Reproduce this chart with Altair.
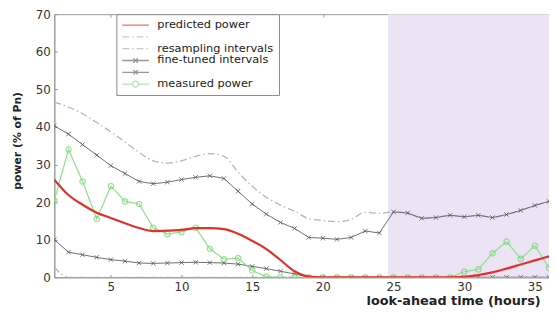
import altair as alt
import pandas as pd

hours = [1, 2, 3, 4, 5, 6, 7, 8, 9, 10, 11, 12, 13, 14, 15, 16, 17, 18,
         19, 20, 21, 22, 23, 24, 25, 26, 27, 28, 29, 30, 31, 32, 33, 34, 35, 36]

predicted = [26.0, 21.9, 19.3, 17.2, 15.8, 14.4, 13.1, 12.3, 12.4, 12.6, 13.1, 13.1,
             12.8, 11.6, 9.7, 7.5, 4.6, 1.6, 0.2, 0.0, 0.0, 0.0, 0.0, 0.0,
             0.0, 0.0, 0.0, 0.0, 0.0, 0.1, 0.6, 1.3, 2.3, 3.4, 4.5, 5.6]
resampling_upper = [46.6, 45.3, 43.5, 41.2, 38.7, 36.0, 33.2, 31.0, 30.4, 31.0, 32.2, 32.9,
                    32.2, 28.0, 24.2, 21.3, 19.2, 17.6, 15.6, 15.1, 14.8, 15.4, 17.3, 17.0,
                    17.4, 17.1, 15.7, 15.9, 16.5, 16.1, 16.5, 15.9, 16.7, 17.8, 19.1, 20.2]
resampling_lower = [2.7, 0.0, 0.0, 0.0, 0.0, 0.0, 0.0, 0.0, 0.0, 0.0, 0.0, 0.0,
                    0.0, 0.0, 0.0, 0.0, 0.0, 0.0, 0.0, 0.0, 0.0, 0.0, 0.0, 0.0,
                    0.0, 0.0, 0.0, 0.0, 0.0, 0.0, 0.0, 0.0, 0.0, 0.0, 0.0, 0.0]
fine_upper = [40.3, 38.1, 35.3, 32.5, 29.7, 27.6, 25.5, 24.9, 25.3, 26.0, 26.6, 27.0,
              26.3, 22.9, 19.5, 16.8, 14.6, 13.0, 10.6, 10.4, 10.1, 10.6, 12.3, 11.8,
              17.4, 17.1, 15.7, 15.9, 16.5, 16.1, 16.5, 15.9, 16.7, 17.8, 19.1, 20.2]
fine_lower = [10.0, 6.7, 6.0, 5.3, 4.7, 4.3, 3.8, 3.7, 3.8, 3.9, 4.0, 3.9,
              3.8, 3.5, 2.9, 2.3, 1.6, 0.9, 0.1, 0.0, 0.0, 0.0, 0.0, 0.0,
              0.0, 0.0, 0.0, 0.0, 0.0, 0.0, 0.0, 0.0, 0.0, 0.0, 0.0, 0.0]
measured = [20.4, 34.0, 25.5, 15.5, 24.3, 20.2, 19.5, 13.2, 11.5, 12.1, 13.2, 7.6,
            4.8, 5.1, 1.8, 0.2, 0.0, 0.0, 0.0, 0.0, 0.0, 0.0, 0.0, 0.0,
            0.0, 0.0, 0.0, 0.0, 0.0, 1.5, 2.1, 6.4, 9.5, 4.9, 8.4, 2.5]

series_keys = ["predicted", "resampling_upper", "resampling_lower",
               "fine_upper", "fine_lower", "measured"]
legend_labels = ["predicted power", "", "resampling intervals",
                 "fine-tuned intervals", "", "measured power"]

RED = "#e2302b"
DASHDOT = "#b2b2cc"
FINE = "#6e6e6e"
GREEN = "#8ee08a"
DD = [7, 3, 1.5, 3]
SOLID = [1, 0]
series_colors = [RED, DASHDOT, DASHDOT, FINE, FINE, GREEN]
series_dashes = [SOLID, DD, DD, SOLID, SOLID, SOLID]

# legend glyphs: a line segment, with the series marker in its middle
LINE_GLYPH = "M-2.7,0L2.7,0"
X_GLYPH = "M-2.7,0L2.7,0M-0.45,-0.45L0.45,0.45M-0.45,0.45L0.45,-0.45"
O_GLYPH = ("M-2.7,0L-0.6,0M0.6,0L2.7,0"
           "M-0.6,0A0.6,0.6 0 1,0 0.6,0A0.6,0.6 0 1,0 -0.6,0")
series_glyphs = [LINE_GLYPH, LINE_GLYPH, LINE_GLYPH, X_GLYPH, X_GLYPH, O_GLYPH]

shade_start = [24.6]
shade_end = [36]
y_low = [0]
y_high = [70]
x_ticks = [5, 10, 15, 20, 25, 30, 35]
y_ticks = [0, 10, 20, 30, 40, 50, 60, 70]

values = {
    "predicted": predicted,
    "resampling_upper": resampling_upper,
    "resampling_lower": resampling_lower,
    "fine_upper": fine_upper,
    "fine_lower": fine_lower,
    "measured": measured,
}
rows = []
for key in series_keys:
    for h, v in zip(hours, values[key]):
        rows.append({"hour": h, "value": v, "series": key})
df = pd.DataFrame(rows)
shade_df = pd.DataFrame({"x0": shade_start, "x1": shade_end, "y0": y_low, "y1": y_high})

# the longest label gets trailing no-break spaces, for the legend box's right margin
label_expr = ""
for k, lab in zip(series_keys, legend_labels):
    shown = lab + ("\u00a0\u00a0\u00a0" if lab == "resampling intervals" else "")
    label_expr += f"datum.label == '{k}' ? '{shown}' : "
label_expr += "datum.label"

xs = alt.Scale(domain=[1, 36], nice=False, zero=False)
ys = alt.Scale(domain=[0, 70], nice=False, zero=False)

legend = alt.Legend(
    title=None, orient="none", legendX=63, legendY=0,
    labelExpr=label_expr, symbolSize=100,
    symbolStrokeWidth=1.3, labelFontSize=11.5, labelFont="DejaVu Sans",
    labelColor="#222", strokeColor="#888", fillColor="#ffffff",
    padding=5, rowPadding=0, labelOffset=16, symbolOffset=8.5,
)


def inner_axis(orient, vals):
    return alt.Axis(orient=orient, offset=-3, tickSize=3, labels=False, domain=False,
                    title="", grid=False, values=vals, tickColor="#999")


main_x = alt.X("hour:Q", scale=xs, axis=alt.Axis(
    orient="bottom", values=x_ticks, tickSize=0, labelPadding=4, grid=False,
    domainColor="#999", title="look-ahead time (hours)", titleX=493, titleY=24,
    titleAlign="right", titleBaseline="middle", titleFontSize=13, titleFontWeight="bold",
    titleColor="#222"))
main_y = alt.Y("value:Q", scale=ys, axis=alt.Axis(
    orient="left", values=y_ticks, tickSize=0, labelPadding=4, grid=False,
    domainColor="#999", title="power (% of Pn)", titleX=-37, titleY=128,
    titleAlign="center", titleBaseline="middle", titleFontSize=11, titleFontWeight="bold",
    titleColor="#222"))
plain_x = alt.X("hour:Q", scale=xs, axis=None)
plain_y = alt.Y("value:Q", scale=ys, axis=None)

shade = alt.Chart(shade_df).mark_rect(color="#ece3f5").encode(
    x=alt.X("x0:Q", scale=xs, axis=inner_axis("top", x_ticks)),
    x2="x1:Q",
    y=alt.Y("y0:Q", scale=ys, axis=inner_axis("right", y_ticks)),
    y2="y1:Q",
)

resampling = alt.Chart(df).transform_filter(
    "datum.series == 'resampling_upper' || datum.series == 'resampling_lower'"
).mark_line(interpolate="monotone", clip=True, color=DASHDOT, strokeDash=DD,
            strokeWidth=1.3).encode(x=main_x, y=main_y, detail="series:N")

fine = alt.Chart(df).transform_filter(
    "datum.series == 'fine_upper' || datum.series == 'fine_lower'"
).mark_line(clip=True, color=FINE, strokeWidth=1).encode(
    x=alt.X("hour:Q", scale=xs, axis=inner_axis("bottom", x_ticks)),
    y=alt.Y("value:Q", scale=ys, axis=inner_axis("left", y_ticks)),
    detail="series:N")

fine_pts = alt.Chart(df).transform_filter(
    "datum.series == 'fine_upper' || datum.series == 'fine_lower'"
).mark_point(shape="M-1,-1L1,1M-1,1L1,-1", size=20, filled=False, color="#444",
             strokeWidth=1, clip=True).encode(x=plain_x, y=plain_y)

meas_line = alt.Chart(df).transform_filter("datum.series == 'measured'").mark_line(
    clip=True, color=GREEN, strokeWidth=1.2).encode(x=plain_x, y=plain_y)

meas_pts = alt.Chart(df).transform_filter("datum.series == 'measured'").mark_point(
    shape="circle", size=30, filled=False, color="#6fd36a", strokeWidth=1.2, clip=True).encode(
    x=plain_x, y=plain_y)

red = alt.Chart(df).transform_filter("datum.series == 'predicted'").mark_line(
    interpolate="monotone", clip=True, color=RED, strokeWidth=2.2).encode(x=plain_x, y=plain_y)

legend_layer = alt.Chart(df).transform_filter("false").mark_point(filled=False).encode(
    x=plain_x, y=plain_y,
    color=alt.Color("series:N", scale=alt.Scale(domain=series_keys, range=series_colors),
                    legend=legend),
    strokeDash=alt.StrokeDash("series:N", scale=alt.Scale(domain=series_keys, range=series_dashes),
                              legend=legend),
    shape=alt.Shape("series:N", scale=alt.Scale(domain=series_keys, range=series_glyphs),
                    legend=legend),
)

chart = alt.layer(shade, resampling, fine, fine_pts, meas_line, meas_pts, red,
                  legend_layer).resolve_axis(
    x="independent", y="independent"
).properties(
    width=502, height=267,
    autosize=alt.AutoSizeParams(type="none"),
    padding={"left": 47, "top": 4, "right": 0, "bottom": 37},
).configure_view(stroke="#999", strokeWidth=1).configure_axis(
    labelFont="DejaVu Sans", labelFontSize=12, labelColor="#333",
    titleFont="DejaVu Sans",
)

chart.save("out.html", embed_options={"renderer": "svg", "actions": False})
